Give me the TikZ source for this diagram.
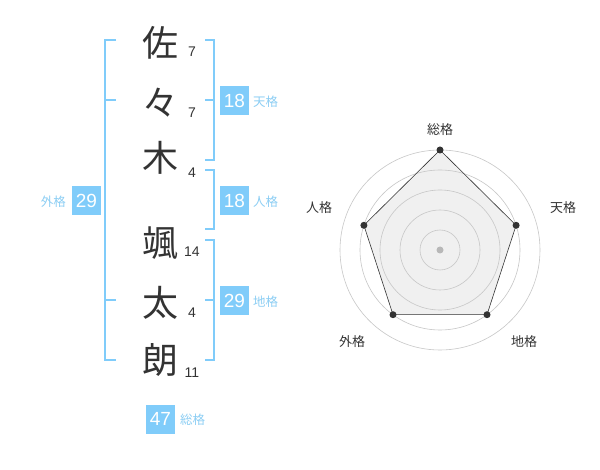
\documentclass[tikz,border=0pt]{standalone}
\usepackage{fontspec}
\setmainfont{Liberation Sans}
\newfontfamily\jpfont{Noto Sans CJK JP}
\definecolor{seiblue}{RGB}{128,204,250}
\definecolor{seilabel}{RGB}{140,206,244}
\definecolor{ink}{RGB}{51,51,51}
\begin{document}
\begin{tikzpicture}[%
    x = 1pt, y = -1pt,
    kanji/.style = {text = ink, inner sep = 0pt, font = \jpfont\fontsize{36}{36}\selectfont},
    strokes/.style = {text = ink, inner sep = 0pt, font = \fontsize{14}{14}\selectfont},
    kakubox/.style = {fill = seiblue, text = white, minimum size = 29pt, inner sep = 0pt, font = \fontsize{19}{19}\selectfont},
    kakuname/.style = {text = seilabel, inner sep = 0pt, font = \jpfont\fontsize{12.5}{12.5}\selectfont},
    bracket/.style = {draw = seiblue, line width = 2pt},
    ring/.style = {draw = black!22, line width = 0.6pt},
    point/.style = {circle, fill = ink, minimum size = 7pt, inner sep = 0pt},
    axisname/.style = {text = ink, inner sep = 0pt, font = \jpfont\fontsize{13}{13}\selectfont}]

    \useasboundingbox[fill = white] (0, 0) rectangle (600, 470);

    % name characters and stroke counts
    \node[kanji] (sa) at (160, 43) {佐};
    \node[kanji] (noma) at (160, 103) {々};
    \node[kanji] (ki) at (160, 158) {木};
    \node[kanji] (hayate) at (160, 243) {颯};
    \node[kanji] (ta) at (160, 303) {太};
    \node[kanji] (rou) at (160, 360) {朗};

    \node[strokes] (n1) at (192, 52) {7};
    \node[strokes] (n2) at (192, 113) {7};
    \node[strokes] (n3) at (192, 173) {4};
    \node[strokes] (n4) at (192, 252) {14};
    \node[strokes] (n5) at (192, 313) {4};
    \node[strokes] (n6) at (192, 373) {11};

    % brackets
    \draw[bracket] (116, 40) -- (105, 40) -- (105, 360) -- (116, 360);
    \draw[bracket] (105, 100) -- (116, 100);
    \draw[bracket] (105, 300) -- (116, 300);
    \draw[bracket] (205, 40) -- (214, 40) -- (214, 160) -- (205, 160);
    \draw[bracket] (205, 100) -- (214, 100);
    \draw[bracket] (205, 170) -- (214, 170) -- (214, 229) -- (205, 229);
    \draw[bracket] (205, 240) -- (214, 240) -- (214, 360) -- (205, 360);
    \draw[bracket] (205, 300) -- (214, 300);

    % totals
    \node[kakubox] (ten) at (234.5, 100.5) {18};
    \node[kakubox] (jin) at (234.5, 200.5) {18};
    \node[kakubox] (chi) at (234.5, 300.5) {29};
    \node[kakubox] (gai) at (86.5, 200.5) {29};
    \node[kakubox] (sou) at (160.5, 419) {47};

    \node[kakuname, anchor = west] (tenname) at (253, 102) {天格};
    \node[kakuname, anchor = west] (jinname) at (253, 202) {人格};
    \node[kakuname, anchor = west] (chiname) at (253, 302) {地格};
    \node[kakuname, anchor = east] (gainame) at (66, 202) {外格};
    \node[kakuname, anchor = west] (souname) at (180, 420) {総格};

    % radar chart
    \coordinate (c) at (440, 250);
    \coordinate (rsou) at (440, 150);
    \coordinate (rten) at (516.1, 225.3);
    \coordinate (rchi) at (487, 314.7);
    \coordinate (rgai) at (393, 314.7);
    \coordinate (rjin) at (363.9, 225.3);

    \fill[black!6] (rsou) -- (rten) -- (rchi) -- (rgai) -- (rjin) -- cycle;
    \draw[ring] (c) circle[radius = 20pt];
    \draw[ring] (c) circle[radius = 40pt];
    \draw[ring] (c) circle[radius = 60pt];
    \draw[ring] (c) circle[radius = 80pt];
    \draw[ring] (c) circle[radius = 100pt];
    \draw[ink, line width = 0.6pt] (rsou) -- (rten) -- (rchi) -- (rgai) -- (rjin) -- cycle;
    \fill[black!28] (c) circle[radius = 3.5pt];

    \node[point] (psou) at (rsou) {};
    \node[point] (pten) at (rten) {};
    \node[point] (pchi) at (rchi) {};
    \node[point] (pgai) at (rgai) {};
    \node[point] (pjin) at (rjin) {};

    \node[axisname] (asou) at (440, 130) {総格};
    \node[axisname] (aten) at (563, 208) {天格};
    \node[axisname] (ajin) at (319, 208) {人格};
    \node[axisname] (agai) at (352, 342) {外格};
    \node[axisname] (achi) at (524, 342) {地格};
\end{tikzpicture}
\end{document}
